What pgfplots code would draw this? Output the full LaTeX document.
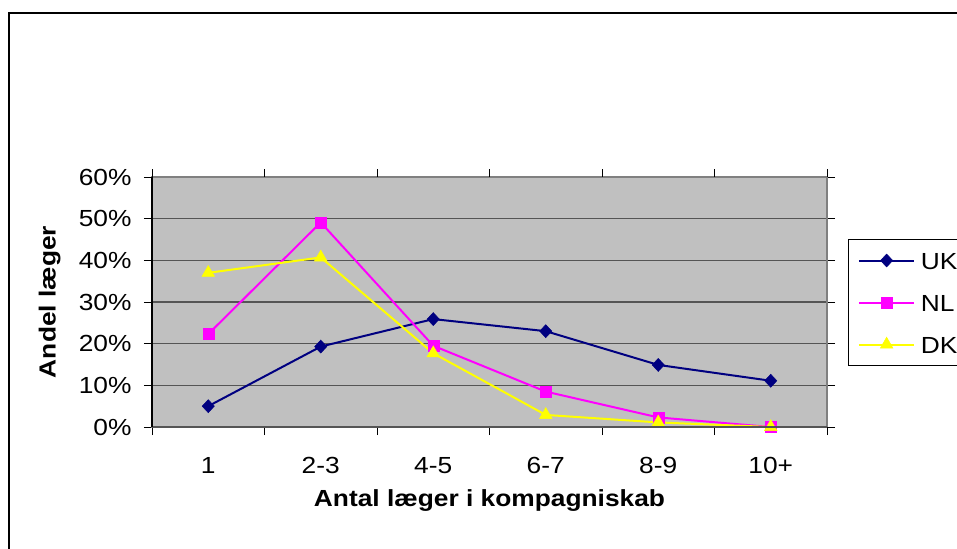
\documentclass[border=0pt]{standalone}
\usepackage{fontspec}
\setmainfont{Liberation Sans}[FakeStretch=1.13]
\usepackage{pgfplots}
\pgfplotsset{compat=1.18}
\definecolor{ukc}{RGB}{0,0,128}
\definecolor{nlc}{RGB}{255,0,255}
\definecolor{dkc}{RGB}{255,255,0}
\definecolor{plotbg}{RGB}{192,192,192}
\definecolor{gridc}{RGB}{85,85,85}
\definecolor{boxc}{RGB}{128,128,128}
\newcommand{\cf}{\fontsize{23.3bp}{28bp}\selectfont}
\begin{document}
\begin{tikzpicture}
\path[use as bounding box, clip] (0,0) rectangle (957bp,-549bp);
\fill[white] (0,0) rectangle (957bp,-549bp);
\draw[line width=2bp] (9bp,-13bp) rectangle (1100bp,-700bp);
\begin{axis}[
  at={(152bp,-427bp)}, anchor=south west,
  scale only axis, width=675bp, height=250bp,
  xmin=-0.5, xmax=5.5, ymin=0, ymax=0.6,
  clip=false,
  axis background/.style={fill=plotbg},
  axis line style={draw=boxc, line width=1.5bp},
  ymajorgrids, grid style={draw=gridc, line width=1.5bp},
  xtick={0,1,2,3,4,5},
  xticklabels={1,2-3,4-5,6-7,8-9,10+},
  ytick={0,0.1,0.2,0.3,0.4,0.5,0.6},
  yticklabels={0\%,10\%,20\%,30\%,40\%,50\%,60\%},
  tick align=outside, major tick length=8bp,
  xtick style={draw=none},
  ytick style={draw=black, line width=1bp},
  extra x ticks={-0.5,0.5,1.5,2.5,3.5,4.5,5.5},
  extra x tick labels={},
  extra x tick style={xtick style={draw=black, line width=1bp}, grid=none},
  xticklabel style={font=\cf, anchor=base, inner sep=0pt, yshift=-38bp},
  yticklabel style={font=\cf, anchor=east, inner sep=0pt, xshift=-12.3bp},
  xlabel={Antal læger i kompagniskab},
  ylabel={Andel læger},
  xlabel style={font=\cf\bfseries, at={(axis description cs:0.5,-0.3188)}, anchor=base, inner sep=0pt},
  ylabel style={font=\cf\bfseries, at={(axis description cs:-0.1516,0.5)}, anchor=center, inner sep=0pt},
  legend image code/.code={\draw[mark repeat=2,mark phase=2,#1] plot coordinates {(0bp,0bp)(27.8bp,0bp)(55.6bp,0bp)};},
  legend style={at={(axis description cs:1.0316,0.752)}, anchor=north west,
    draw=black, line width=1bp, fill=white, font=\cf,
    inner xsep=9bp, inner ysep=12.5bp, row sep=25bp, column sep=5.5bp,
    nodes={inner sep=0pt, text height=17bp, text depth=0bp},
    cells={anchor=west}},
  after end axis/.code={
    \draw[gridc, line width=1.5bp] (rel axis cs:0,0) -- (rel axis cs:1,0);
    \draw[black, line width=1.5bp] (rel axis cs:0,0) -- (rel axis cs:0,1);
  },
]
\addplot[color=ukc, line width=2bp, mark=diamond*, mark size=6.5bp, mark options={solid, fill=ukc, line width=0.5bp, xscale=1.25}]
  coordinates {(0,0.050) (1,0.193) (2,0.259) (3,0.230) (4,0.149) (5,0.111)};
\addlegendentry{UK\hspace*{20bp}}
\addplot[color=nlc, line width=2bp, mark=square*, mark size=5.5bp, mark options={solid, fill=nlc, line width=0.5bp}]
  coordinates {(0,0.223) (1,0.491) (2,0.195) (3,0.085) (4,0.023) (5,0.000)};
\addlegendentry{NL\hspace*{20bp}}
\addplot[color=dkc, line width=2bp, mark=triangle*, mark size=7.3bp, mark options={solid, fill=dkc, line width=0.5bp}]
  coordinates {(0,0.370) (1,0.407) (2,0.177) (3,0.029) (4,0.011) (5,0.000)};
\addlegendentry{DK\hspace*{20bp}}
\end{axis}
\end{tikzpicture}
\end{document}
